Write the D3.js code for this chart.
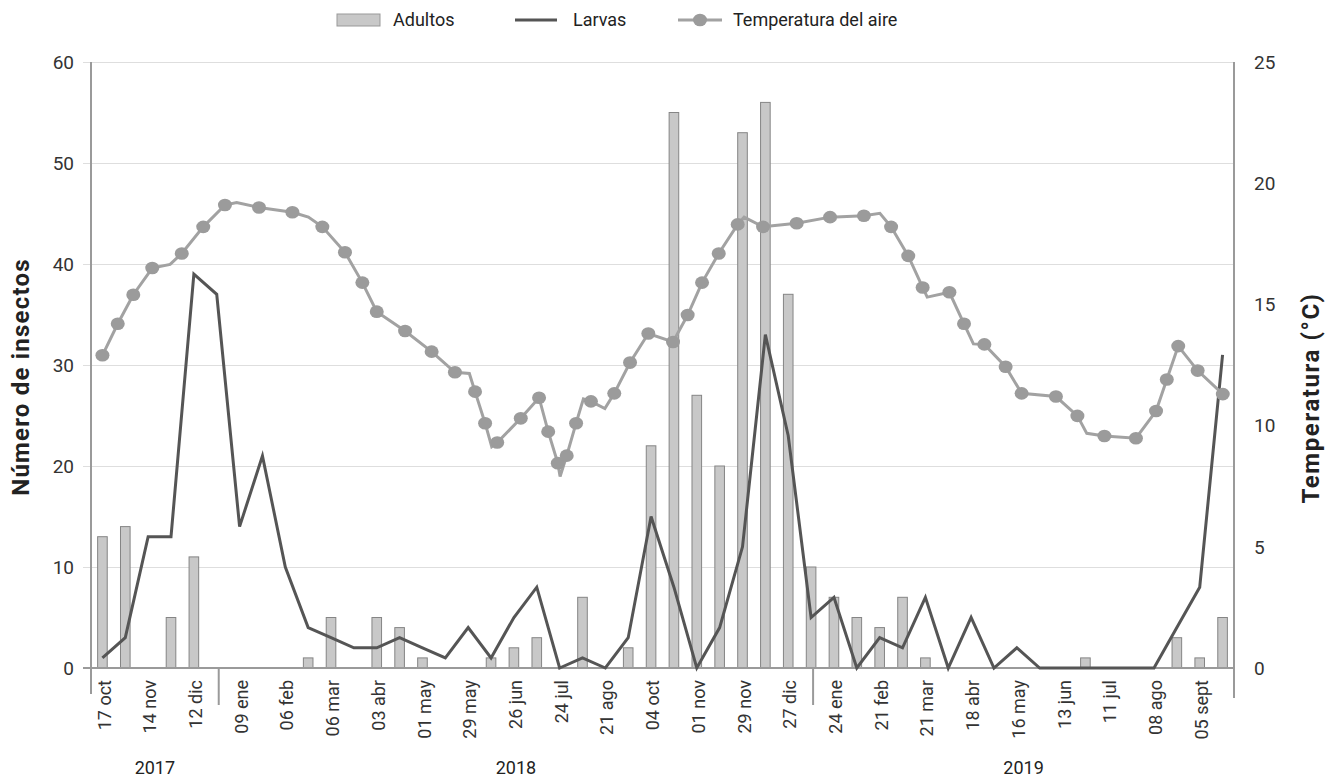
<!DOCTYPE html>
<html>
<head>
<meta charset="utf-8">
<script src="https://cdn.jsdelivr.net/npm/d3@7"></script>
<style>
  html, body { margin: 0; padding: 0; background: #fff; }
  svg { display: block; font-family: Roboto, "Noto Sans", sans-serif; }
</style>
</head>
<body>
<svg id="chart" width="1329" height="778"></svg>
<script>
// ---- Data ----
// Sampling dates (every other one labelled on the axis)
const dateLabels = [
  "17 oct","","14 nov","","12 dic","","09 ene","","06 feb","",
  "06 mar","","03 abr","","01 may","","29 may","","26 jun","",
  "24 jul","","21 ago","","04 oct","","01 nov","","29 nov","",
  "27 dic","","24 ene","","21 feb","","21 mar","","18 abr","",
  "16 may","","13 jun","","11 jul","","08 ago","","05 sept",""
];
const adultos = [13,14,0,5,11,0,0,0,0,1, 5,0,5,4,1,0,0,1,2,3, 0,7,0,2,22,55,27,20,53,56,
                 37,10,7,5,4,7,1,0,0,0, 0,0,0,1,0,0,0,3,1,5];
const larvas  = [1,3,13,13,39,37,14,21,10,4, 3,2,2,3,2,1,4,1,5,8, 0,1,0,3,15,8,0,4,12,33,
                 23,5,7,0,3,2,7,0,5,0, 2,0,0,0,0,0,0,4,8,31];
// Air temperature: position along the sampling axis (in sampling-index units), value (°C), marker shown
const tempPos = [0.0,0.67,1.35,2.18,2.96,3.47,4.41,5.36,5.87,6.85, 8.31,9.01,9.62,10.61,11.37,12.0,13.24,14.40,15.42,16.05,
                 16.30,16.74,17.03,17.27,18.30,19.10,19.50,19.92,20.02,20.31, 20.72,21.04,21.37,21.98,22.39,23.08,23.88,24.96,25.60,26.23,
                 26.96,27.79,28.07,28.90,30.37,31.83,33.31,34.01,34.50,35.25, 35.88,36.08,37.05,37.69,38.10,38.58,39.51,40.21,41.71,42.65,
                 43.06,43.83,45.21,46.09,46.56,47.06,47.91,49.01];
const tempVal = [12.9,14.2,15.4,16.5,16.65,17.1,18.2,19.1,19.2,19.0, 18.8,18.6,18.2,17.15,15.9,14.7,13.9,13.05,12.2,12.15,
                 11.4,10.1,9.13,9.3,10.3,11.15,9.75,8.45,7.9,8.76, 10.1,11.1,11.0,10.7,11.33,12.6,13.8,13.45,14.56,15.9,
                 17.1,18.3,18.6,18.2,18.35,18.6,18.66,18.76,18.2,17.0, 15.7,15.3,15.5,14.2,13.37,13.35,12.43,11.33,11.2,10.4,
                 9.68,9.57,9.48,10.6,11.9,13.28,12.27,11.3];
const tempMark = [1,1,1,1,0,1,1,1,0,1, 1,0,1,1,1,1,1,1,1,0,
                  1,1,0,1,1,1,1,1,0,1, 1,0,1,0,1,1,1,1,1,1,
                  1,1,0,1,1,1,1,0,1,1, 1,0,1,1,0,1,1,1,1,1,
                  0,1,1,1,1,1,1,1];
const leftTicks = [0,10,20,30,40,50,60];
const rightTicks = [0,5,10,15,20,25];
const years = [
  {label:"2017", from:null, to:5},
  {label:"2018", from:5, to:31},
  {label:"2019", from:31, to:null}
];
const seriesNames = ["Adultos","Larvas","Temperatura del aire"];

// ---- Layout ----
const svg = d3.select("#chart");
const L = 91, R = 1234, T = 62, B = 668;
const idx = d3.range(dateLabels.length);

const x = d3.scaleBand().domain(idx).range([L, R]).padding(0);
const xPos = d3.scaleLinear().domain([-0.5, dateLabels.length - 0.5]).range([L, R]);
const yL = d3.scaleLinear().domain([0, 60]).range([B, T]);
const yR = d3.scaleLinear().domain([0, 25]).range([B, T]);
const cx = i => x(i) + x.bandwidth() / 2;

const cText = "#333";
const gridC = "#dedede";
const axisC = "#9a9a9a";

// gridlines (left axis ticks)
svg.append("g").attr("transform", `translate(${R},0)`)
  .call(d3.axisLeft(yL).tickValues(leftTicks.filter(d => d > 0)).tickSize(R - L + 8).tickFormat(""))
  .call(g => g.select(".domain").remove())
  .call(g => g.selectAll("line").attr("stroke", gridC).attr("stroke-width", 1.2));

// left tick labels
svg.append("g").selectAll("text").data(leftTicks).join("text")
  .attr("x", 74).attr("y", d => yL(d)).attr("dy", "0.36em")
  .attr("text-anchor", "end").attr("font-size", 19).attr("fill", cText)
  .text(d => d);
// right tick labels
svg.append("g").selectAll("text").data(rightTicks).join("text")
  .attr("x", 1254).attr("y", d => yR(d)).attr("dy", "0.36em")
  .attr("text-anchor", "start").attr("font-size", 19).attr("fill", cText)
  .text(d => d);

// bars
const bw = x.bandwidth() * 0.42;
svg.append("g").selectAll("rect").data(idx.filter(i => adultos[i] > 0)).join("rect")
  .attr("x", i => cx(i) - bw / 2)
  .attr("y", i => yL(adultos[i]))
  .attr("width", bw)
  .attr("height", i => yL(0) - yL(adultos[i]))
  .attr("fill", "#c8c8c8").attr("stroke", "#858585").attr("stroke-width", 1);

// axis lines
svg.append("line").attr("x1", L - 8).attr("x2", R).attr("y1", B).attr("y2", B)
  .attr("stroke", axisC).attr("stroke-width", 2);
svg.append("line").attr("x1", L).attr("x2", L).attr("y1", T).attr("y2", 694)
  .attr("stroke", axisC).attr("stroke-width", 2);
svg.append("line").attr("x1", R).attr("x2", R).attr("y1", T).attr("y2", 698)
  .attr("stroke", axisC).attr("stroke-width", 2);

// larvas line
svg.append("path").datum(idx)
  .attr("d", d3.line().x(i => cx(i)).y(i => yL(larvas[i])))
  .attr("fill", "none").attr("stroke", "#555").attr("stroke-width", 3).attr("stroke-linejoin", "miter");

// temperature line + markers
const tIdx = d3.range(tempPos.length);
svg.append("path").datum(tIdx)
  .attr("d", d3.line().x(i => xPos(tempPos[i])).y(i => yR(tempVal[i])))
  .attr("fill", "none").attr("stroke", "#a2a2a2").attr("stroke-width", 3);
svg.append("g").selectAll("ellipse").data(tIdx.filter(i => tempMark[i])).join("ellipse")
  .attr("cx", i => xPos(tempPos[i])).attr("cy", i => yR(tempVal[i]))
  .attr("rx", 7).attr("ry", 6.3).attr("fill", "#9b9b9b");

// x tick labels (rotated)
svg.append("g").selectAll("text").data(idx.filter(i => dateLabels[i] !== "")).join("text")
  .attr("transform", i => `translate(${cx(i)},${B + 12}) rotate(-90)`)
  .attr("text-anchor", "end").attr("dy", "0.45em")
  .attr("font-size", 18).attr("fill", cText)
  .text(i => dateLabels[i]);

// year separators and labels
years.forEach(yg => {
  if (yg.from !== null) {
    svg.append("line").attr("x1", cx(yg.from) + 2).attr("x2", cx(yg.from) + 2)
      .attr("y1", B).attr("y2", 705).attr("stroke", axisC).attr("stroke-width", 2);
  }
  const a = yg.from === null ? L : cx(yg.from) + 2;
  const b = yg.to === null ? R : cx(yg.to) + 2;
  svg.append("text").attr("x", (a + b) / 2).attr("y", 768).attr("dy", "0.36em")
    .attr("text-anchor", "middle").attr("font-size", 18).attr("fill", "#222")
    .text(yg.label);
});

// axis titles
svg.append("text").attr("transform", `translate(20,${(T + B) / 2 + 12}) rotate(-90)`)
  .attr("text-anchor", "middle").attr("dy", "0.36em")
  .attr("font-size", 24).attr("font-weight", 700).attr("letter-spacing", 1.2).attr("fill", "#222")
  .text("Número de insectos");
svg.append("text").attr("transform", `translate(1310,${(T + B) / 2 + 33}) rotate(-90)`)
  .attr("text-anchor", "middle").attr("dy", "0.36em")
  .attr("font-size", 24).attr("font-weight", 700).attr("letter-spacing", 1.6).attr("fill", "#222")
  .text("Temperatura (°C)");

// legend
const lg = svg.append("g");
const ly = 20;
lg.append("rect").attr("x", 337).attr("y", ly - 6).attr("width", 43).attr("height", 12)
  .attr("fill", "#c8c8c8").attr("stroke", "#999");
lg.append("text").attr("x", 393).attr("y", ly).attr("dy", "0.36em").attr("font-size", 18).attr("fill", "#222").text(seriesNames[0]);
lg.append("line").attr("x1", 515).attr("x2", 557).attr("y1", ly).attr("y2", ly).attr("stroke", "#555").attr("stroke-width", 3);
lg.append("text").attr("x", 573).attr("y", ly).attr("dy", "0.36em").attr("font-size", 18).attr("fill", "#222").text(seriesNames[1]);
lg.append("line").attr("x1", 678).attr("x2", 722).attr("y1", ly).attr("y2", ly).attr("stroke", "#a2a2a2").attr("stroke-width", 3);
lg.append("ellipse").attr("cx", 700).attr("cy", ly).attr("rx", 7).attr("ry", 6.3).attr("fill", "#9b9b9b");
lg.append("text").attr("x", 733).attr("y", ly).attr("dy", "0.36em").attr("font-size", 18).attr("fill", "#222").text(seriesNames[2]);
</script>
</body>
</html>
